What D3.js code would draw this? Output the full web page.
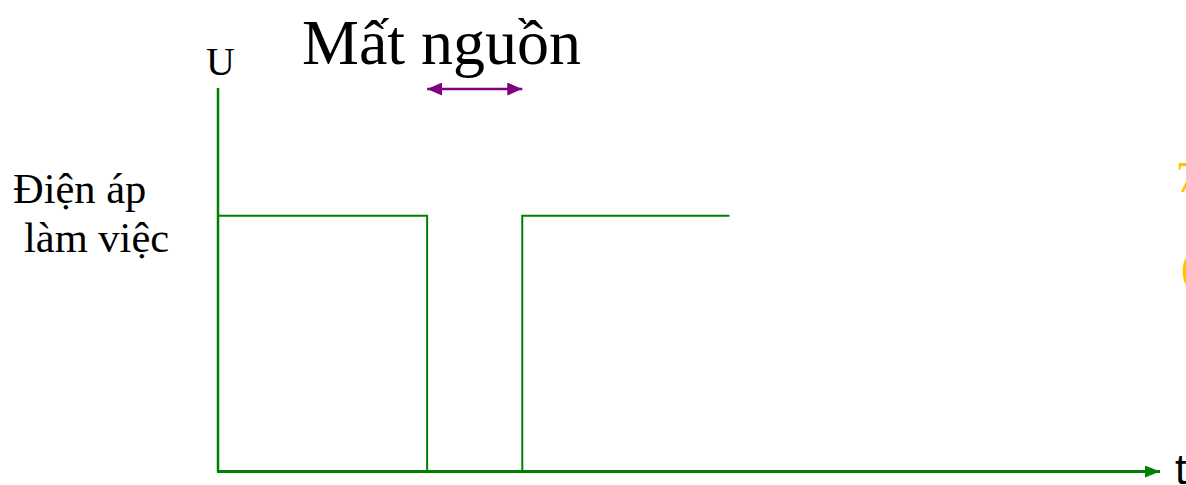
<!DOCTYPE html>
<html lang="vi">
<head>
<meta charset="UTF-8">
<title>Mất nguồn</title>
<script src="https://d3js.org/d3.v7.min.js"></script>
<style>
    html, body { margin: 0; padding: 0; background: #fff; overflow: hidden; }
    svg { display: block; }
</style>
<script>
    // voltage step: time breakpoints and levels (U in per-unit)
    const TIMES = [0, 22.2, 22.2, 32.3, 32.3, 54.3];
    const LEVELS = [1, 1, 0, 0, 1, 1];
    // power-loss interval marked by the double arrow
    const OUTAGE = [22.2, 32.3];
    const LABELS = {title: "Mất nguồn", y: "U", x: "t", level: ["Điện áp", "làm việc"]};

    document.addEventListener("DOMContentLoaded", function() {
        drawChart();
    });

    function drawChart() {
        const width = 1186, height = 485;
        const svg = d3.select("svg").attr("width", width).attr("height", height);

        const x = d3.scaleLinear().domain([0, 100]).range([218, 1160]);
        const y = d3.scaleLinear().domain([0, 1.5]).range([471.5, 88]);

        const green = "#008000", purple = "#800080";

        const defs = svg.append("defs");
        defs.append("marker").attr("id", "headG")
            .attr("viewBox", "0 0 15 12").attr("refX", 15).attr("refY", 6)
            .attr("markerWidth", 15).attr("markerHeight", 12)
            .attr("markerUnits", "userSpaceOnUse").attr("orient", "auto")
            .append("path").attr("d", "M0,0L15,6L0,12Z").attr("fill", green);
        defs.append("marker").attr("id", "headP")
            .attr("viewBox", "0 0 15 13").attr("refX", 15).attr("refY", 6.5)
            .attr("markerWidth", 15).attr("markerHeight", 13)
            .attr("markerUnits", "userSpaceOnUse").attr("orient", "auto-start-reverse")
            .append("path").attr("d", "M0,0L15,6.5L0,13Z").attr("fill", purple);

        // y axis (no arrow)
        svg.append("line")
            .attr("x1", x(0)).attr("x2", x(0))
            .attr("y1", y(0)).attr("y2", y(1.5))
            .attr("stroke", green).attr("stroke-width", 2.5);

        // x axis with arrow
        svg.append("line")
            .attr("x1", x(0) - 1).attr("x2", x(100))
            .attr("y1", y(0)).attr("y2", y(0))
            .attr("stroke", green).attr("stroke-width", 2.8)
            .attr("marker-end", "url(#headG)");

        // voltage trace
        const line = d3.line().x(d => x(d[0])).y(d => y(d[1]));
        svg.append("path")
            .datum(d3.zip(TIMES, LEVELS))
            .attr("d", line)
            .attr("fill", "none")
            .attr("stroke", green).attr("stroke-width", 2);

        // outage arrow
        svg.append("line")
            .attr("x1", x(OUTAGE[0])).attr("x2", x(OUTAGE[1]))
            .attr("y1", 89).attr("y2", 89)
            .attr("stroke", purple).attr("stroke-width", 2.5)
            .attr("marker-start", "url(#headP)")
            .attr("marker-end", "url(#headP)");

        const serif = "'Liberation Serif', 'Times New Roman', serif";

        svg.append("text").text(LABELS.title)
            .attr("x", 302).attr("y", 64)
            .style("font-family", serif).style("font-size", "64px").attr("fill", "#000");

        svg.append("text").text(LABELS.y)
            .attr("x", 206).attr("y", 75)
            .style("font-family", serif).style("font-size", "40px").attr("fill", "#000");

        svg.append("text").text(LABELS.x)
            .attr("x", 1175).attr("y", 484)
            .style("font-family", "'Liberation Sans', Arial, sans-serif")
            .style("font-size", "42px").attr("fill", "#000");

        svg.selectAll(".lvl")
            .data(LABELS.level)
            .enter().append("text")
            .attr("class", "lvl")
            .text(d => d)
            .attr("x", (d, i) => i === 0 ? 13 : 24)
            .attr("y", (d, i) => 203 + i * 49)
            .style("font-family", serif).style("font-size", "42.5px").attr("fill", "#000");

        // clipped fragments at the right edge
        svg.append("text").text("7")
            .attr("x", 1176).attr("y", 192)
            .style("font-family", serif).style("font-size", "44px").attr("fill", "#FFC000");
        svg.append("text").text("(")
            .attr("x", 1181).attr("y", 282)
            .style("font-family", serif).style("font-size", "44px").attr("fill", "#FFC000");
    }
</script>
</head>
<body>
<svg id="chart"></svg>
</body>
</html>
